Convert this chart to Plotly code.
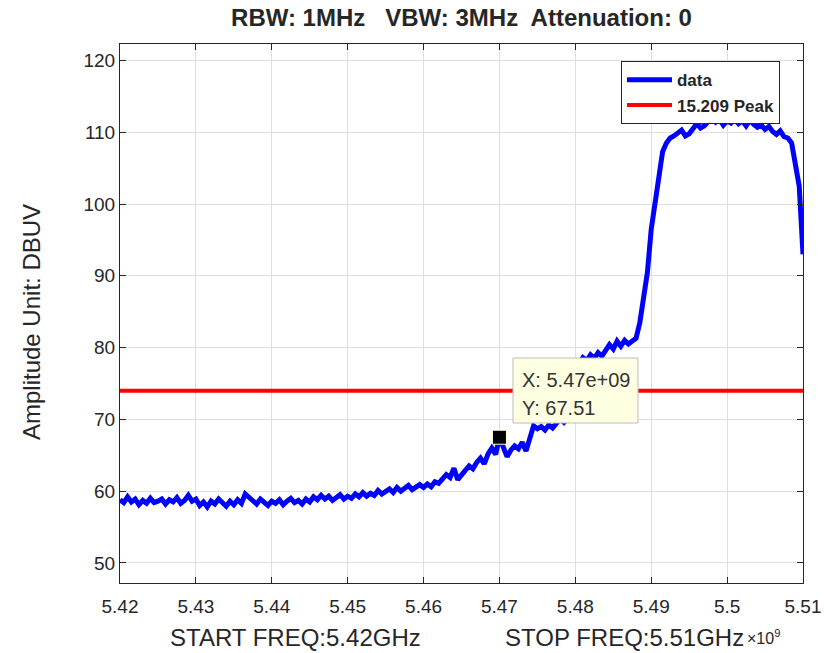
import numpy as np
import plotly.graph_objects as go

# sweep settings (GHz)
start_ghz = 5.42
stop_ghz = 5.51

# measured amplitude, dBuV, one value per 0.5 MHz step
amplitude = [
    58.8, 58.4, 59.2, 58.5, 58.9, 58.1, 58.7, 58.3, 59.0, 58.4, 58.6, 58.9, 58.2, 58.8, 58.5, 59.1, 58.3, 58.7, 59.4, 58.6, 58.9,
    58.0, 58.5, 57.8, 58.6, 58.2, 58.9, 58.4, 57.9, 58.6, 58.1, 58.8, 58.3, 59.6, 59.2, 58.6, 58.2, 58.9, 58.4, 58.0, 58.6,
    58.3, 58.8, 58.1, 58.6, 59.0, 58.4, 58.7, 58.2, 58.9, 58.5, 59.2, 58.8, 59.4, 58.9, 59.3, 58.7, 59.1, 59.5, 58.9, 59.3,
    59.0, 59.6, 59.2, 59.8, 59.3, 59.7, 59.4, 60.1, 59.6, 59.9, 60.3, 59.8, 60.5, 60.0, 60.4, 60.8, 60.2, 60.6, 60.9, 60.5,
    61.0, 60.6, 61.3, 61.1, 61.7, 62.3, 61.9, 63.2, 61.6, 62.4, 62.9, 63.5, 63.1, 64.0, 64.6, 63.8, 65.2, 66.0, 65.1, 67.51,
    66.2, 64.8, 65.7, 66.3, 65.9, 66.8, 65.6, 67.2, 69.1, 68.7, 69.0, 68.5, 69.2, 68.8, 69.4, 70.1, 69.6, 70.3, 70.9, 71.5,
    77.8, 78.6, 78.2, 79.0, 78.5, 79.3, 78.8, 79.6, 80.4, 79.8, 80.9, 80.2, 81.0, 80.5, 80.9, 81.3, 83.5, 87.0, 90.5, 96.5,
    100.5, 104.5, 107.3, 108.5, 109.2, 109.5, 109.9, 110.3, 109.5, 109.8, 110.5, 111.2, 110.6, 110.9, 111.5, 112.0, 111.4, 111.8, 111.0, 111.6,
    111.3, 111.9, 111.2, 111.6, 110.9, 111.7, 111.1, 110.7, 111.0, 110.4, 110.8, 110.1, 109.7, 110.2, 109.4, 109.2, 108.5, 105.0, 102.5, 93.0,
]
freq = np.linspace(start_ghz, stop_ghz, len(amplitude))

limit_x = [start_ghz, stop_ghz]
limit_y = [74, 74]

tip_x = 5.47
tip_y = 67.51

x_ticks = [5.42, 5.43, 5.44, 5.45, 5.46, 5.47, 5.48, 5.49, 5.5, 5.51]
x_labels = ["5.42", "5.43", "5.44", "5.45", "5.46", "5.47", "5.48", "5.49", "5.5", "5.51"]
y_ticks = [50, 60, 70, 80, 90, 100, 110, 120]

FONT = "Liberation Sans, Arial, sans-serif"
TXT = "#262626"

fig = go.Figure()
fig.add_trace(go.Scatter(x=freq, y=amplitude, mode="lines", name="<b>data</b>",
                         line=dict(color="#0000ff", width=5)))
fig.add_trace(go.Scatter(x=limit_x, y=limit_y, mode="lines", name="<b>15.209 Peak</b>",
                         line=dict(color="#ff0000", width=4)))
fig.add_trace(go.Scatter(x=[tip_x], y=[tip_y], mode="markers", showlegend=False,
                         marker=dict(symbol="square", size=14, color="black",
                                     line=dict(color="#ffffe1", width=1))))

axis_common = dict(showline=True, linecolor=TXT, linewidth=1, mirror="ticks",
                   ticks="inside", ticklen=6, tickcolor=TXT, showgrid=True,
                   gridcolor="#dfdfdf", gridwidth=1, zeroline=False, automargin=False,
                   tickfont=dict(family=FONT, size=19, color=TXT))

fig.update_xaxes(range=[start_ghz, stop_ghz], tickvals=x_ticks, ticktext=x_labels,
                 ticklabelstandoff=6, **axis_common)
fig.update_yaxes(range=[47.2, 122.3], tickvals=y_ticks, **axis_common)

# data tip box
fig.add_shape(type="rect", xref="paper", yref="paper", x0=0.5754, x1=0.7584,
              y0=0.2968, y1=0.4174, layer="above",
              fillcolor="#ffffe1", line=dict(color="#bdbdbd", width=1))
fig.add_annotation(xref="paper", yref="paper", x=0.5856, y=0.3766, xanchor="left", yanchor="middle",
                   text=f"X: {tip_x * 1e9:.3g}", showarrow=False,
                   font=dict(family=FONT, size=20, color="#333333"))
fig.add_annotation(xref="paper", yref="paper", x=0.5856, y=0.3247, xanchor="left", yanchor="middle",
                   text=f"Y: {tip_y}", showarrow=False,
                   font=dict(family=FONT, size=20, color="#333333"))

# axis titles
fig.add_annotation(xref="paper", yref="paper", x=0.0703, y=-0.1020, xanchor="left", yanchor="middle",
                   text="START FREQ:5.42GHz", showarrow=False,
                   font=dict(family=FONT, size=24, color=TXT))
fig.add_annotation(xref="paper", yref="paper", x=0.5608, y=-0.1020, xanchor="left", yanchor="middle",
                   text="STOP FREQ:5.51GHz", showarrow=False,
                   font=dict(family=FONT, size=24, color=TXT))
fig.add_annotation(xref="paper", yref="paper", x=0.9150, y=-0.1000, xanchor="left", yanchor="middle",
                   text="×10<sup>9</sup>", showarrow=False,
                   font=dict(family=FONT, size=16, color=TXT))
fig.add_annotation(xref="paper", yref="paper", x=-0.1303, y=0.4842, xanchor="center", yanchor="middle",
                   text="Amplitude Unit: DBUV", textangle=-90, showarrow=False,
                   font=dict(family=FONT, size=24, color=TXT))

fig.update_layout(
    width=824, height=653,
    margin=dict(l=120, r=21, t=44, b=70),
    paper_bgcolor="white", plot_bgcolor="white",
    title=dict(text="<b>RBW: 1MHz   VBW: 3MHz  Attenuation: 0</b>", x=0.5, xref="paper",
               y=1 - 18 / 653, yanchor="middle",
               font=dict(family=FONT, size=24, color=TXT)),
    legend=dict(x=0.7335, y=0.968, xanchor="left", yanchor="top",
                bgcolor="white", bordercolor="#262626", borderwidth=1,
                itemwidth=45, tracegroupgap=0,
                font=dict(family=FONT, size=17, color=TXT)),
    showlegend=True,
)

# page body has an 8px default margin; drop it so the figure sits at the window's corner
fig.write_html("out.html", config={"displayModeBar": False},
               post_script="document.body.style.margin='0';")
